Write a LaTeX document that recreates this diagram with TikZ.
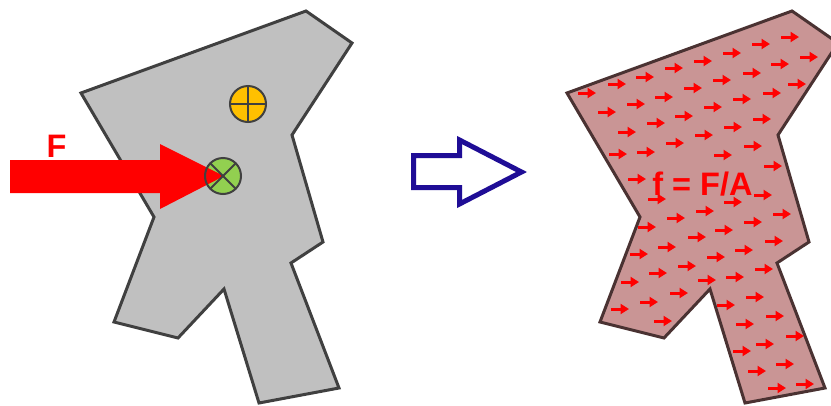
\documentclass[tikz,border=0pt]{standalone}
\usepackage{fontspec}
\setmainfont{Liberation Sans}
\usetikzlibrary{arrows.meta}
\definecolor{bodygray}{HTML}{C0C0C0}
\definecolor{edgegray}{HTML}{404040}
\definecolor{stressfill}{HTML}{C99595}
\definecolor{stressedge}{HTML}{4A3232}
\definecolor{bigblue}{HTML}{1F0D96}
\definecolor{pinorange}{HTML}{FFC000}
\definecolor{pingreen}{HTML}{92D050}
\tikzset{
  bodyline/.style={line width=3pt, line join=miter},
  pinline/.style={draw=edgegray, line width=2pt},
  smallarrow/.style={draw=red, line width=3pt, -{Triangle[length=8.5pt,width=10pt]}},
  bigtext/.style={text=red, font=\fontsize{32.5}{38}\selectfont\bfseries, inner sep=0pt, anchor=base}
}
\begin{document}
\begin{tikzpicture}[x=1pt,y=-1pt]
\useasboundingbox (0,0) rectangle (831,405);
\clip (0,0) rectangle (831,405);

% left body
\draw[bodyline, draw=edgegray, fill=bodygray]
  (306,11) -- (352,43) -- (292,135) -- (323,242) -- (291,263) -- (339,388)
  -- (259,403) -- (224,289) -- (178,338) -- (114,322) -- (154,217) -- (81,93) -- cycle;

% orange pin
\fill[pinorange] (248,104) circle (18);
\draw[pinline] (248,104) circle (18);
\draw[pinline] (230,104) -- (266,104) (248,86) -- (248,122);

% green pin fill
\fill[pingreen] (223,176) circle (18);

% force arrow
\fill[red] (10,160) -- (160,160) -- (160,144) -- (224,176) -- (160,209) -- (160,193) -- (10,193) -- cycle;
\node[bigtext] (Flabel) at (56.5,157) {F};

% green pin outline
\draw[pinline] (223,176) circle (18);
\draw[pinline] (223,176) ++(-12.7,-12.7) -- ++(25.4,25.4);
\draw[pinline] (223,176) ++(12.7,-12.7) -- ++(-25.4,25.4);

% hollow blue arrow
\draw[draw=bigblue, fill=white, line width=5pt, line join=miter]
  (413.5,155.5) -- (459.5,155.5) -- (459.5,140) -- (521.5,172) -- (459.5,204)
  -- (459.5,187.5) -- (413.5,187.5) -- cycle;

% right body (stress)
\begin{scope}[xshift=486pt]
\draw[bodyline, draw=stressedge, fill=stressfill]
  (306,11) -- (352,43) -- (292,135) -- (323,242) -- (291,263) -- (339,388)
  -- (259,403) -- (224,289) -- (178,338) -- (114,322) -- (154,217) -- (81,93) -- cycle;
\end{scope}

\foreach \x/\y in {
 587/93, 617/84, 645/77, 674/68, 703/61, 732/53, 761/44, 790/37,
 607/112, 636/104, 664/97, 693/88, 722/80, 752/73, 780/64, 809/57,
 627/132, 656/123, 684/116, 713/107, 742/99, 772/93, 797/84,
 618/154, 646/152, 675/143, 704/135, 733/127, 762/119,
 637/179, 723/155, 753/146, 773/166,
 657/199, 676/218, 647/227, 705/211, 733/202, 763/195, 782/214,
 753/222, 724/230, 697/237, 667/247, 639/254,
 774/241, 744/250, 716/257, 687/266, 658/273, 630/282,
 764/269, 735/277, 707/280, 679/293, 649/302, 620/309, 663/321,
 726/305, 755/297, 775/316, 745/324, 795/336, 765/344, 742/351,
 785/364, 757/371, 805/384, 777/388}
 \draw[smallarrow] (\x-9,\y) -- (\x+9,\y);

\node[bigtext] (ftext) at (702.5,195) {f = F/A};
\end{tikzpicture}
\end{document}
